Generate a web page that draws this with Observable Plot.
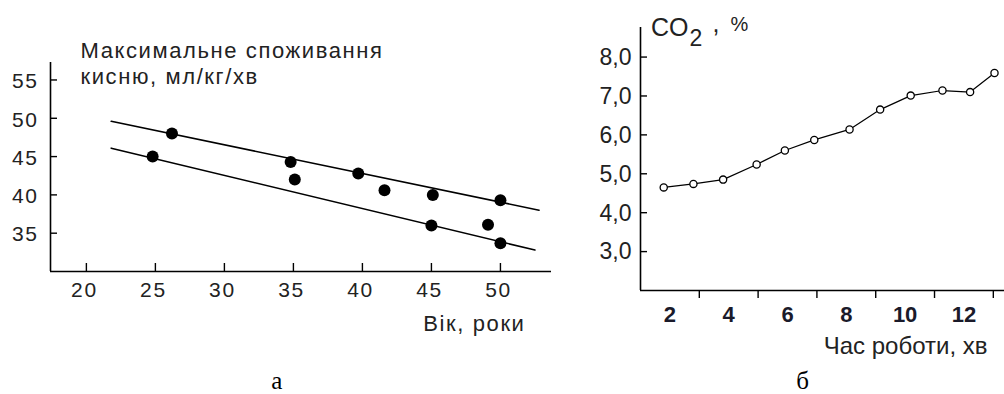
<!DOCTYPE html>
<html><head><meta charset="utf-8">
<script src="https://cdn.jsdelivr.net/npm/d3@7"></script>
<script src="https://cdn.jsdelivr.net/npm/@observablehq/plot@0.6"></script>
<style>
html,body{margin:0;padding:0;background:#fff;}
#wrap{position:relative;width:1004px;height:394px;overflow:hidden;background:#fff;}
#wrap svg{position:absolute;top:0;max-width:none;}
.lft text{letter-spacing:1.6px;}
</style></head><body><div id="wrap"></div>
<script>
// ---- Panel а: max oxygen uptake vs age ----
const ageTicks = [20, 25, 30, 35, 40, 45, 50];
const vo2Ticks = [35, 40, 45, 50, 55];
const ageValues = [24.8, 26.2, 34.8, 35.1, 39.7, 41.6, 45.1, 50.0, 45.0, 49.1, 50.0];
const vo2Values = [45.0, 48.0, 44.3, 42.0, 42.8, 40.6, 40.0, 39.3, 36.0, 36.1, 33.7];
const upperLineAge = [21.8, 52.8];
const upperLineVo2 = [49.6, 38.0];
const lowerLineAge = [21.8, 52.5];
const lowerLineVo2 = [46.1, 32.8];
const leftTitle1 = "Максимальне споживання";
const leftTitle2 = "кисню, мл/кг/хв";
const leftXLabel = "Вік, роки";
const leftCaption = "а";

// ---- Panel б: CO2 vs working time ----
const timeLabelTicks = [2, 4, 6, 8, 10, 12];
const timeMarkTicks = [3, 5, 7, 9, 11, 13];
const co2Ticks = [3, 4, 5, 6, 7, 8];
const co2TickLabels = ["3,0", "4,0", "5,0", "6,0", "7,0", "8,0"];
const timeValues = [1.79, 2.80, 3.81, 4.95, 5.91, 6.91, 8.11, 9.15, 10.19, 11.27, 12.21, 13.04];
const co2Values = [4.65, 4.74, 4.85, 5.24, 5.60, 5.87, 6.14, 6.65, 7.01, 7.14, 7.10, 7.59];
const rightXLabel = "Час роботи, хв";
const rightCaption = "б";

const wrap = document.getElementById("wrap");

// Left panel
const LW = 560, LH = 394, LML = 50, LMR = 9, LMT = 62, LMB = 123;
const lFrameW = LW - LML - LMR, lFrameH = LH - LMT - LMB;
const xL = [17.4, 53.7], yL = [30, 57.28];
const sans = "Liberation Sans, Arial, sans-serif";
const serif = "Liberation Serif, Times New Roman, serif";
const left = Plot.plot({
  width: LW, height: LH, marginLeft: LML, marginRight: LMR, marginTop: LMT, marginBottom: LMB,
  className: "lft",
  x: {domain: xL, axis: null},
  y: {domain: yL, axis: null},
  style: {background: "white", color: "black", fontFamily: sans, overflow: "visible"},
  marks: [
    Plot.ruleX([xL[0]], {stroke: "black", strokeWidth: 1.6}),
    Plot.ruleY([yL[0]], {stroke: "black", strokeWidth: 1.6}),
    Plot.tickX(ageTicks, {x: d => d, insetTop: lFrameH - 8, stroke: "black", strokeWidth: 1.4}),
    Plot.tickY(vo2Ticks, {y: d => d, insetRight: lFrameW - 7, stroke: "black", strokeWidth: 1.4}),
    Plot.text(ageTicks, {x: d => d, text: d => String(d), frameAnchor: "bottom", lineAnchor: "middle", dy: 19, dx: -2, fontSize: 21, fill: "#222"}),
    Plot.text(vo2Ticks, {y: d => d, text: d => String(d), frameAnchor: "left", textAnchor: "end", lineAnchor: "middle", dx: -12, dy: 1.5, fontSize: 21, fill: "#222"}),
    Plot.text([leftTitle1], {frameAnchor: "top-left", textAnchor: "start", lineAnchor: "bottom", dx: 30, dy: -4.5, fontSize: 22, fill: "#222"}),
    Plot.text([leftTitle2], {frameAnchor: "top-left", textAnchor: "start", lineAnchor: "bottom", dx: 30, dy: 21, fontSize: 22, fill: "#222"}),
    Plot.text([leftXLabel], {frameAnchor: "bottom-right", textAnchor: "end", lineAnchor: "bottom", dx: -26, dy: 59, fontSize: 22, fill: "#222"}),
    Plot.text([leftCaption], {frameAnchor: "bottom", textAnchor: "middle", lineAnchor: "bottom", dx: -23.5, dy: 117, fontSize: 25, fontFamily: serif, fill: "black"}),
    Plot.line({length: 2}, {x: upperLineAge, y: upperLineVo2, stroke: "black", strokeWidth: 1.6}),
    Plot.line({length: 2}, {x: lowerLineAge, y: lowerLineVo2, stroke: "black", strokeWidth: 1.6}),
    Plot.dot({length: ageValues.length}, {x: ageValues, y: vo2Values, r: 6, fill: "black", stroke: "none"})
  ]
});
left.style.left = "0px";
wrap.appendChild(left);

// Right panel
const RW = 444, RH = 394, RML = 80, RMR = 0, RMT = 27, RMB = 104;
const rFrameW = RW - RML - RMR, rFrameH = RH - RMT - RMB;
const xR = [1.0, 13.38], yR = [2.0, 8.76];
const right = Plot.plot({
  width: RW, height: RH, marginLeft: RML, marginRight: RMR, marginTop: RMT, marginBottom: RMB,
  x: {domain: xR, axis: null},
  y: {domain: yR, axis: null},
  style: {background: "white", color: "black", fontFamily: sans, overflow: "visible"},
  marks: [
    Plot.ruleX([xR[0]], {stroke: "black", strokeWidth: 1.6}),
    Plot.ruleY([yR[0]], {stroke: "black", strokeWidth: 1.6}),
    Plot.axisX(timeMarkTicks, {tickSize: 8, tickFormat: () => "", stroke: "black", strokeWidth: 1.4}),
    Plot.tickY(co2Ticks, {y: d => d, insetRight: rFrameW - 7, stroke: "black", strokeWidth: 1.4}),
    Plot.text(timeLabelTicks, {x: d => d, text: d => String(d), frameAnchor: "bottom", lineAnchor: "middle", dy: 24, fontSize: 22, fontWeight: "bold", fill: "#1a1a2a"}),
    Plot.text(co2Ticks, {y: d => d, text: (d, i) => co2TickLabels[i], frameAnchor: "left", textAnchor: "end", lineAnchor: "middle", dx: -9, dy: 0.5, fontSize: 23, fill: "#222"}),
    Plot.text(["CO"], {frameAnchor: "top-left", textAnchor: "start", lineAnchor: "bottom", dx: 10.5, dy: 8, fontSize: 25, fill: "#222"}),
    Plot.text(["2"], {frameAnchor: "top-left", textAnchor: "start", lineAnchor: "bottom", dx: 49, dy: 18, fontSize: 23, fill: "#222"}),
    Plot.text([","], {frameAnchor: "top-left", textAnchor: "start", lineAnchor: "bottom", dx: 72, dy: 4, fontSize: 25, fill: "#222"}),
    Plot.text(["%"], {frameAnchor: "top-left", textAnchor: "start", lineAnchor: "bottom", dx: 90, dy: 3, fontSize: 20, fill: "#222"}),
    Plot.text([rightXLabel], {frameAnchor: "bottom-right", textAnchor: "end", lineAnchor: "bottom", dx: -17, dy: 63, fontSize: 24, fill: "#222"}),
    Plot.text([rightCaption], {frameAnchor: "bottom", textAnchor: "middle", lineAnchor: "bottom", dx: -20, dy: 98, fontSize: 25, fontFamily: serif, fill: "black"}),
    Plot.line({length: timeValues.length}, {x: timeValues, y: co2Values, stroke: "black", strokeWidth: 1.2}),
    Plot.dot({length: timeValues.length}, {x: timeValues, y: co2Values, r: 3.6, fill: "white", stroke: "black", strokeWidth: 1.3})
  ]
});
right.style.left = "560px";
wrap.appendChild(right);
</script></body></html>
